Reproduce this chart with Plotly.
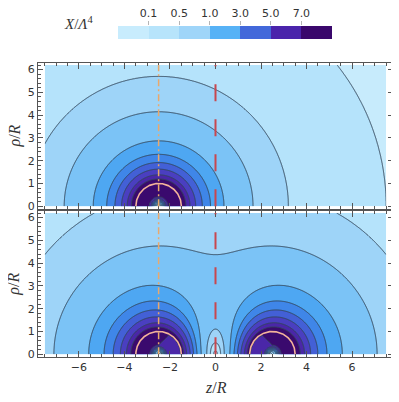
import numpy as np
import plotly.graph_objects as go

# contour levels of X/Lambda^4 (one line per level)
levels = [0.1, 0.5, 1.0, 2.0, 3.0, 4.0, 5.0, 6.0, 7.0]
# radius from the sphere centre (in R) where each level is crossed in the one-sphere panel
r_outside = [10.0, 5.7, 4.15, 2.87, 2.28, 1.92, 1.63, 1.38, 1.2]
r_inside = [0.05, 0.09, 0.13, 0.17, 0.21, 0.25, 0.29, 0.33, 0.40]
top_spheres = [-2.5]
bottom_spheres = [-2.5, 2.5]
sphere_radius = 1.0
z_extent = [-7.5, 7.5]
rho_extent = [0.0, 6.2]
dashed_z = 0.0
dashdot_z = -2.5

band_colors = ["#c7ebfc", "#b5e3fb", "#9ed4f8", "#7bc3f6", "#4ea7f2",
               "#3f86e8", "#4360d6", "#4a3fc0", "#4a27a8", "#3a0a6e"]
legend_labels = ["0.1", "0.5", "1.0", "3.0", "5.0", "7.0"]
legend_colors = ["#c8ecfd", "#b7e4fb", "#9fd5f9", "#57b2f6", "#4268da", "#4a24ab", "#3a076c"]

h_levels = 1.0 / np.array(r_outside) ** 2


def flux(r):
    # Newtonian-like flux outside the sphere, read-off profile inside
    h = 1.0 / np.maximum(r, 1e-9) ** 2
    rin = [0.0] + r_inside + [0.95, 1.0]
    hin = [0.0] + list(h_levels) + [0.73, 1.0]
    inside = r < sphere_radius
    h[inside] = np.interp(r[inside], rin, hin)
    return h


def extrap_interp(x, xp, fp):
    y = np.interp(x, xp, fp)
    lo = x < xp[0]
    hi = x > xp[-1]
    y[lo] = fp[0] + (x[lo] - xp[0]) * (fp[1] - fp[0]) / (xp[1] - xp[0])
    y[hi] = fp[-1] + (x[hi] - xp[-1]) * (fp[-1] - fp[-2]) / (xp[-1] - xp[-2])
    return y


z = np.linspace(z_extent[0], z_extent[1], 601)
rho = np.linspace(rho_extent[0], rho_extent[1], 249)
Z, P = np.meshgrid(z, rho)


def level_index(centres, screen):
    gz = np.zeros_like(Z)
    gr = np.zeros_like(Z)
    for c in centres:
        dz = Z - c
        r = np.maximum(np.hypot(dz, P), 1e-9)
        h = flux(r)
        gz -= h * dz / r
        gr -= h * P / r
    g = np.hypot(gz, gr)
    if screen:
        # the two spheres screen each other around the mid-plane
        width = 1.0 + 0.3 * P
        g *= 1 - 0.5 * np.exp(-(Z / width) ** 2) * np.exp(-(P / 4.0) ** 2)
    idx = extrap_interp(np.log(g + 1e-12), np.log(h_levels), np.arange(1, len(levels) + 1))
    return np.round(np.clip(idx, -4, 14), 3)


n = len(band_colors) - 1
fill_scale = []
for k in range(n):
    fill_scale += [[k / n, band_colors[k]], [(k + 1) / n - 1e-4, band_colors[k]]]
fill_scale.append([1.0, band_colors[-1]])

m = len(legend_colors)
legend_scale = []
for k in range(m):
    legend_scale += [[k / m, legend_colors[k]], [(k + 1) / m, legend_colors[k]]]

line_col = "#34485c"
fig = go.Figure()

for xa, ya, centres, screen in [("x", "y", top_spheres, False), ("x2", "y2", bottom_spheres, True)]:
    fig.add_trace(go.Contour(
        x=z, y=rho, z=level_index(centres, screen),
        contours=dict(start=1, end=len(levels), size=1, coloring="fill"),
        colorscale=fill_scale, showscale=False,
        line=dict(color=line_col, width=1),
        hoverinfo="skip", xaxis=xa, yaxis=ya,
    ))
    t = np.linspace(0, np.pi, 120)
    for c in centres:
        fig.add_trace(go.Scatter(
            x=c + sphere_radius * np.cos(t), y=sphere_radius * np.sin(t),
            mode="lines", line=dict(color="#f4b49a", width=1.6),
            hoverinfo="skip", showlegend=False, xaxis=xa, yaxis=ya,
        ))
    fig.add_shape(type="line", xref=xa, yref=ya, x0=dashdot_z, x1=dashdot_z,
                  y0=rho_extent[0], y1=rho_extent[1],
                  line=dict(color="#eaa86c", width=1.5, dash="7px,3px,2px,3px"))
    fig.add_shape(type="line", xref=xa, yref=ya, x0=dashed_z, x1=dashed_z,
                  y0=rho_extent[0], y1=rho_extent[1],
                  line=dict(color="#c8474e", width=2, dash="17px,18px"))

fig.add_trace(go.Heatmap(
    z=[list(range(m))], x=list(range(m)), y=[0],
    colorscale=legend_scale, zmin=-0.5, zmax=m - 0.5, showscale=False,
    hoverinfo="skip", xaxis="x3", yaxis="y3",
))

tickfont = dict(family="DejaVu Sans", size=11, color="#333")
frame = dict(showline=True, linecolor="#555", linewidth=1, mirror="ticks",
             ticks="inside", tickcolor="#555", showgrid=False, zeroline=False,
             tickfont=tickfont, automargin=False)
xcommon = dict(frame, range=[-7.8, 7.8], tickvals=[-6, -4, -2, 0, 2, 4, 6], ticklen=6,
               minor=dict(dtick=0.5, tick0=0, ticklen=3, ticks="inside", tickcolor="#555"))
ycommon = dict(frame, range=[-0.12, 6.29], dtick=1, ticklen=5,
               minor=dict(dtick=0.2, tick0=0, ticklen=2.5, ticks="inside", tickcolor="#555"))

serif = dict(family="Liberation Serif", size=16, color="#333")

# the page body adds an 8px offset, so the figure is 8px smaller than the window
fig.update_layout(
    width=391, height=394,
    margin=dict(l=30, r=6, t=2, b=45, autoexpand=False),
    paper_bgcolor="white", plot_bgcolor="white",
    showlegend=False,
    xaxis=dict(xcommon, domain=[0, 1], anchor="y", showticklabels=False),
    yaxis=dict(ycommon, domain=[0.4265, 0.8473], anchor="x"),
    xaxis2=dict(xcommon, domain=[0, 1], anchor="y2"),
    yaxis2=dict(ycommon, domain=[0, 0.4207], anchor="x2"),
    xaxis3=dict(domain=[0.2254, 0.828], anchor="y3", range=[-0.5, m - 0.5], side="top",
                tickvals=[k + 0.5 for k in range(len(legend_labels))], ticktext=legend_labels,
                ticks="outside", ticklen=4, tickcolor="#b5b5b5", showgrid=False,
                zeroline=False, showline=False, tickfont=tickfont, automargin=False),
    yaxis3=dict(domain=[0.9164, 0.9539], anchor="x3", range=[-0.5, 0.5], visible=False),
    annotations=[
        dict(text="<i>z</i>/<i>R</i>", xref="paper", yref="paper", x=0.5014, y=-0.089,
             xanchor="center", yanchor="middle", showarrow=False, font=serif),
        dict(text="<i>ρ</i>/<i>R</i>", xref="paper", yref="paper", x=-0.066, y=0.637,
             xanchor="center", yanchor="middle", textangle=-90, showarrow=False, font=serif),
        dict(text="<i>ρ</i>/<i>R</i>", xref="paper", yref="paper", x=-0.066, y=0.21,
             xanchor="center", yanchor="middle", textangle=-90, showarrow=False, font=serif),
        dict(text="<i>X</i>/<i>Λ</i><sup>4</sup>", xref="paper", yref="paper", x=0.1127, y=0.962,
             xanchor="center", yanchor="middle", showarrow=False,
             font=dict(serif, size=15)),
    ],
)

fig.write_html("out.html")
